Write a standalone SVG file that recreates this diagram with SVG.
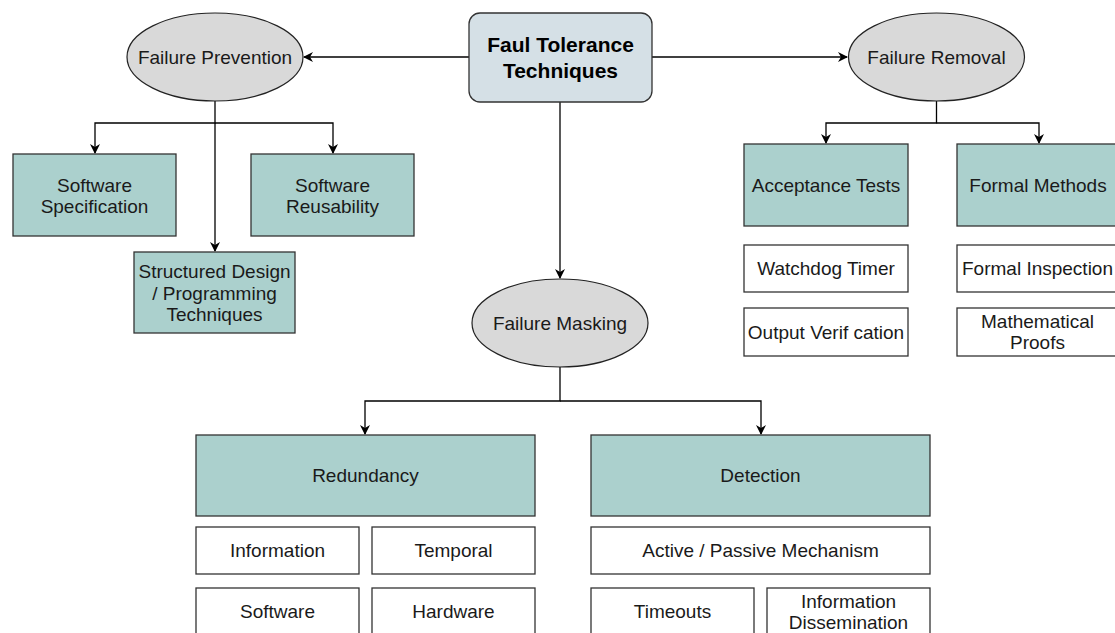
<svg xmlns="http://www.w3.org/2000/svg" width="1115" height="633" viewBox="0 0 1115 633">
  <style>
    text { font-family: "Liberation Sans", Arial, sans-serif; font-size: 19px; fill: #1a1a1a; text-anchor: middle; }
    .title { font-size: 21px; font-weight: bold; fill: #000; }
    .oval { fill: #d9d9d9; stroke: #222; stroke-width: 1.2; }
    .root { fill: #d5e0e6; stroke: #333; stroke-width: 1.3; }
    .cat { fill: #abd0cd; stroke: #333; stroke-width: 1.3; }
    .leaf { fill: #ffffff; stroke: #333; stroke-width: 1.3; }
    .edge { fill: none; stroke: #000; stroke-width: 1.3; }
  </style>
  <defs>
    <marker id="arrow" viewBox="0 0 10 10" refX="9" refY="5" markerWidth="10" markerHeight="10" markerUnits="userSpaceOnUse" orient="auto">
      <path d="M0,0 L10,5 L0,10 L3,5 Z" fill="#000"/>
    </marker>
  </defs>

  <rect width="1115" height="633" fill="#ffffff"/>

  <!-- connectors -->
  <g id="connectors">
    <path class="edge" d="M469,57 L304,57" marker-end="url(#arrow)"/>
    <path class="edge" d="M652,57 L847,57" marker-end="url(#arrow)"/>
    <path class="edge" d="M560,102 L560,278" marker-end="url(#arrow)"/>
    <!-- failure prevention branches -->
    <path class="edge" d="M215,101 L215,123 L95,123 L95,153" marker-end="url(#arrow)"/>
    <path class="edge" d="M215,123 L333,123 L333,153" marker-end="url(#arrow)"/>
    <path class="edge" d="M215,123 L215,251" marker-end="url(#arrow)"/>
    <!-- failure removal branches -->
    <path class="edge" d="M936.5,101 L936.5,123 L826,123 L826,143" marker-end="url(#arrow)"/>
    <path class="edge" d="M936.5,123 L1039,123 L1039,143" marker-end="url(#arrow)"/>
    <!-- failure masking branches -->
    <path class="edge" d="M560,367 L560,401 L365,401 L365,434" marker-end="url(#arrow)"/>
    <path class="edge" d="M560,401 L761,401 L761,434" marker-end="url(#arrow)"/>
  </g>

  <!-- root -->
  <g id="root">
    <rect class="root" x="469" y="13" width="183" height="89" rx="11" ry="11"/>
    <text class="title" x="560.5" y="51.5">Faul Tolerance</text>
    <text class="title" x="560.5" y="77.5">Techniques</text>
  </g>

  <!-- failure prevention -->
  <g id="failure-prevention">
    <ellipse class="oval" cx="215" cy="57" rx="88" ry="44"/>
    <text x="215" y="63.5">Failure Prevention</text>
  </g>
  <g id="software-specification">
    <rect class="cat" x="13" y="154" width="163" height="82"/>
    <text x="94.5" y="191.5">Software</text>
    <text x="94.5" y="213">Specification</text>
  </g>
  <g id="software-reusability">
    <rect class="cat" x="251" y="154" width="163" height="82"/>
    <text x="332.5" y="191.5">Software</text>
    <text x="332.5" y="213">Reusability</text>
  </g>
  <g id="structured-design">
    <rect class="cat" x="134" y="252" width="161" height="81"/>
    <text x="214.5" y="277.5">Structured Design</text>
    <text x="214.5" y="299.5">/ Programming</text>
    <text x="214.5" y="321">Techniques</text>
  </g>

  <!-- failure removal -->
  <g id="failure-removal">
    <ellipse class="oval" cx="936.5" cy="57" rx="88" ry="44"/>
    <text x="936.5" y="63.5">Failure Removal</text>
  </g>
  <g id="acceptance-tests">
    <rect class="cat" x="744" y="144" width="164" height="82"/>
    <text x="826" y="191.5">Acceptance Tests</text>
  </g>
  <g id="formal-methods">
    <rect class="cat" x="957" y="144" width="164" height="82"/>
    <text x="1038" y="191.5">Formal Methods</text>
  </g>
  <g id="watchdog-timer">
    <rect class="leaf" x="744" y="245" width="164" height="47"/>
    <text x="826" y="275">Watchdog Timer</text>
  </g>
  <g id="output-verification">
    <rect class="leaf" x="744" y="308" width="164" height="48"/>
    <text x="826" y="338.5">Output Verif cation</text>
  </g>
  <g id="formal-inspection">
    <rect class="leaf" x="957" y="245" width="164" height="47"/>
    <text x="1037.5" y="275">Formal Inspection</text>
  </g>
  <g id="mathematical-proofs">
    <rect class="leaf" x="957" y="308" width="164" height="48"/>
    <text x="1037.5" y="327.5">Mathematical</text>
    <text x="1037.5" y="349">Proofs</text>
  </g>

  <!-- failure masking -->
  <g id="failure-masking">
    <ellipse class="oval" cx="560" cy="323" rx="88" ry="44"/>
    <text x="560" y="329.5">Failure Masking</text>
  </g>
  <g id="redundancy">
    <rect class="cat" x="196" y="435" width="339" height="81"/>
    <text x="365.5" y="482">Redundancy</text>
  </g>
  <g id="information">
    <rect class="leaf" x="196" y="527" width="163" height="47"/>
    <text x="277.5" y="557">Information</text>
  </g>
  <g id="temporal">
    <rect class="leaf" x="372" y="527" width="163" height="47"/>
    <text x="453.5" y="557">Temporal</text>
  </g>
  <g id="software">
    <rect class="leaf" x="196" y="588" width="163" height="47"/>
    <text x="277.5" y="618">Software</text>
  </g>
  <g id="hardware">
    <rect class="leaf" x="372" y="588" width="163" height="47"/>
    <text x="453.5" y="618">Hardware</text>
  </g>
  <g id="detection">
    <rect class="cat" x="591" y="435" width="339" height="81"/>
    <text x="760.5" y="482">Detection</text>
  </g>
  <g id="active-passive">
    <rect class="leaf" x="591" y="527" width="339" height="47"/>
    <text x="760.5" y="557">Active / Passive Mechanism</text>
  </g>
  <g id="timeouts">
    <rect class="leaf" x="591" y="588" width="163" height="47"/>
    <text x="672.5" y="618">Timeouts</text>
  </g>
  <g id="information-dissemination">
    <rect class="leaf" x="767" y="588" width="163" height="47"/>
    <text x="848.5" y="607.5">Information</text>
    <text x="848.5" y="629">Dissemination</text>
  </g>
</svg>
